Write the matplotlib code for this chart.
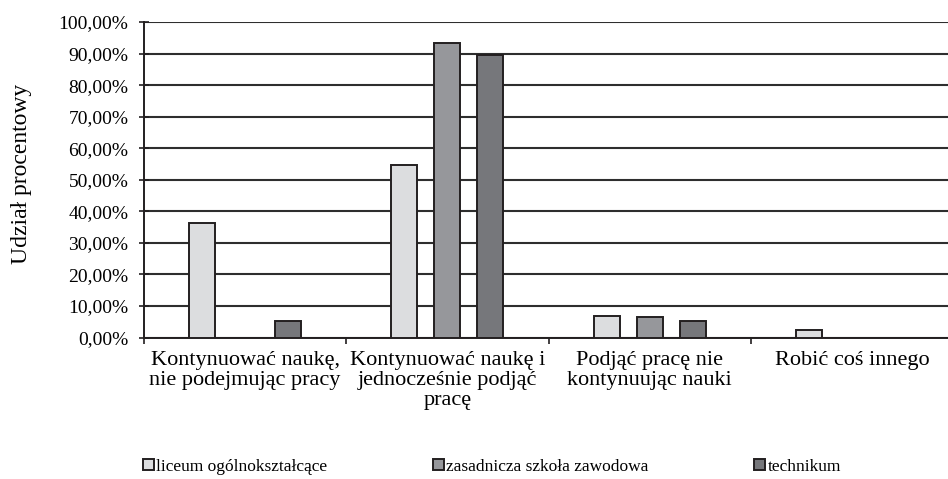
import numpy as np
import matplotlib
matplotlib.use("Agg")
import matplotlib.pyplot as plt
from matplotlib.ticker import FuncFormatter, FixedLocator

plt.rcParams['font.family'] = ['Liberation Serif', 'DejaVu Serif']

# dane
categories = ["Kontynuować naukę,\nnie podejmując pracy",
              "Kontynuować naukę i\njednocześnie podjąć\npracę",
              "Podjąć pracę nie\nkontynuując nauki",
              "Robić coś innego"]
series_names = ["liceum ogólnokształcące", "zasadnicza szkoła zawodowa", "technikum"]
liceum = [36.3, 54.6, 6.8, 2.3]
zasadnicza = [0.0, 93.4, 6.6, 0.0]
technikum = [5.3, 89.4, 5.2, 0.0]
yticks = np.arange(0, 101, 10)

colors = ["#dcdddf", "#96979b", "#76777b"]
edge = "#231f20"

fig = plt.figure(figsize=(9.48, 4.79), dpi=100)
ax = fig.add_axes([144/948, (479-337.5)/479, 809/948, 315.5/479])

x = np.arange(len(categories))
w = 0.129
offs = [-0.213, 0.0, 0.213]
for vals, off, col, name in zip([liceum, zasadnicza, technikum], offs, colors, series_names):
    ax.bar(x + off, vals, width=w, color=col, edgecolor=edge, linewidth=1.4, label=name, zorder=3)

ax.set_xlim(-0.5, 3.5)
ax.set_ylim(0, 100)
ax.set_yticks(yticks)
ax.yaxis.set_major_formatter(FuncFormatter(lambda v, p: f"{v:.2f}".replace('.', ',') + '%'))
ax.grid(axis='y', color='#2e2e2e', linewidth=1.5, zorder=0)
ax.set_axisbelow(True)

for s in ['top', 'right']:
    ax.spines[s].set_visible(False)
for s in ['left', 'bottom']:
    ax.spines[s].set_color(edge)
    ax.spines[s].set_linewidth(1.4)

ax.tick_params(axis='y', direction='inout', length=6.5, width=1.2, color=edge, pad=8, labelsize=14)
ax.set_xticks(x)
ax.set_xticklabels(categories, fontsize=16, linespacing=1.05)
ax.tick_params(axis='x', which='major', length=0, pad=10)
ax.xaxis.set_minor_locator(FixedLocator([-0.5, 0.5, 1.5, 2.5, 3.5]))
ax.tick_params(axis='x', which='minor', direction='out', length=4.5, width=1.2, color=edge)

ax.set_ylabel("Udział procentowy", fontsize=17)
ax.yaxis.set_label_coords(-0.139, 0.52)

fig.legend(loc='center', bbox_to_anchor=(0.519, 1 - 467/479), ncol=3, frameon=False,
           fontsize=12.5, handlelength=0.6, handleheight=0.6, handletextpad=0.15,
           columnspacing=6.1)

fig.savefig("out.png", dpi=100)
